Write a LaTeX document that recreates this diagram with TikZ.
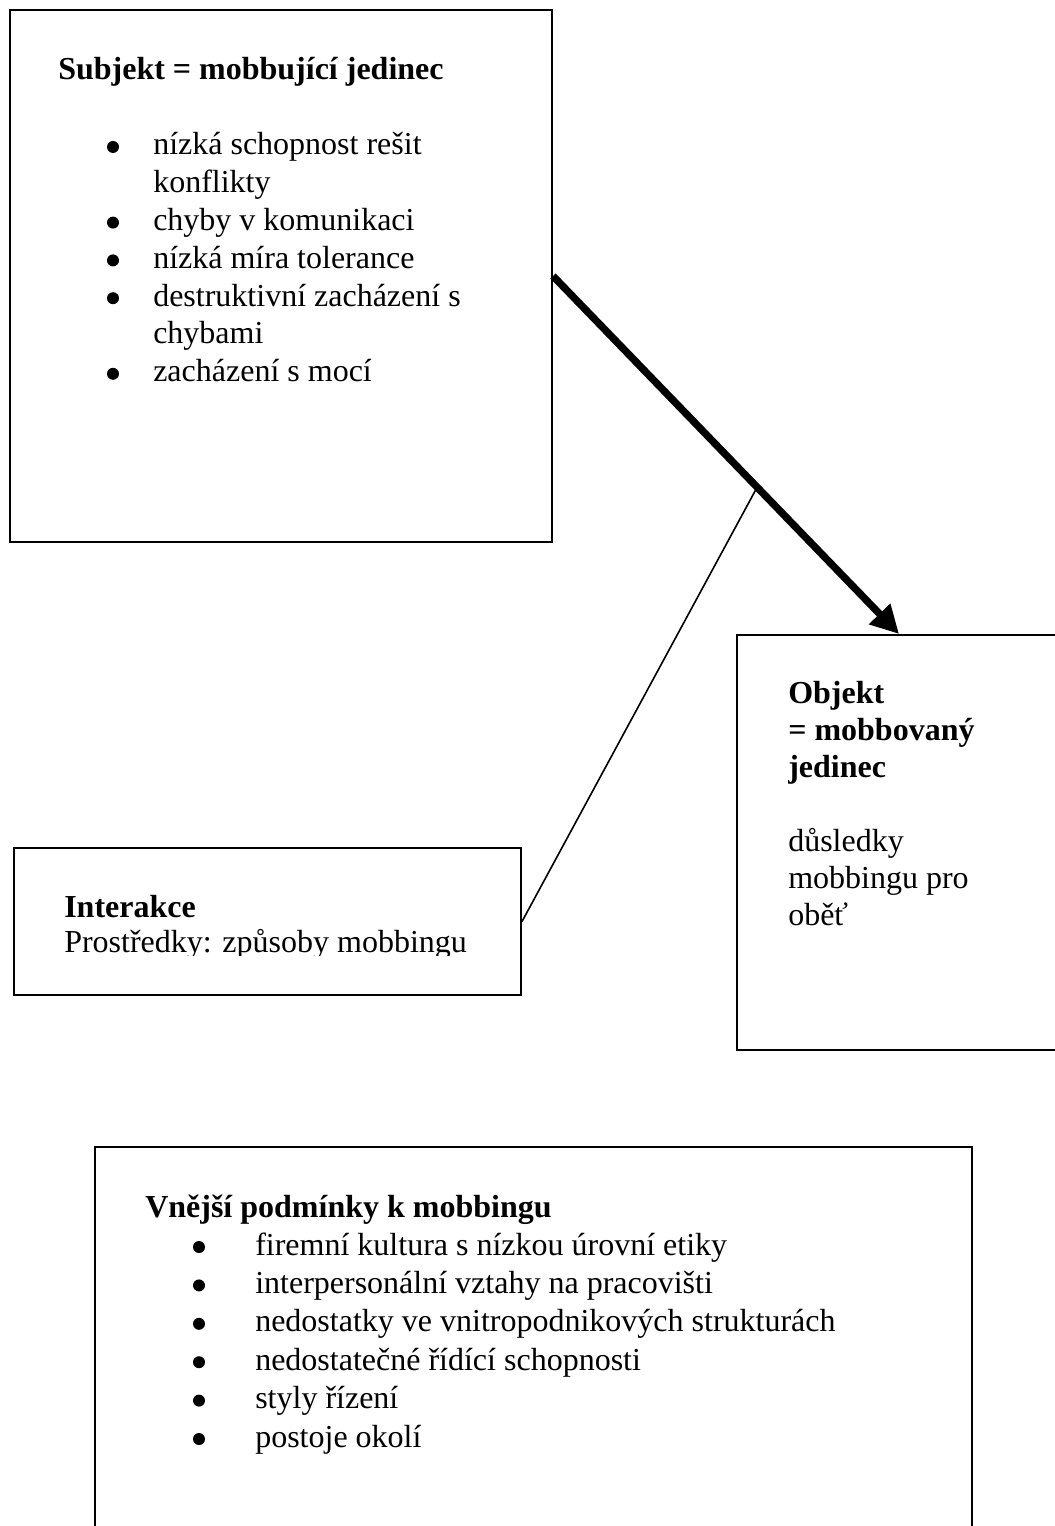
\documentclass[tikz,border=0pt]{standalone}
\usepackage{fontspec}
\setmainfont{Liberation Serif}
\usetikzlibrary{arrows.meta,calc,fit}
\begin{document}
\begin{tikzpicture}[x=0.75pt,y=-0.75pt,
  box/.style={draw, line width=1.5pt, inner sep=0pt},
  txt/.style={anchor=base west, inner sep=0pt, font=\fontsize{24pt}{28pt}\selectfont},
  head/.style={anchor=base west, inner sep=0pt, font=\fontsize{24pt}{28pt}\selectfont\bfseries},
  dot/.style={circle, fill, inner sep=0pt, minimum size=9pt},
  link/.style={line width=1.2pt},
  push/.style={line width=5.5pt, -{Triangle[length=21pt,width=21pt]}}]

\useasboundingbox[fill=white] (0,0) rectangle (1054,1526);

% --- boxes ---
\node[box, fit={(10,10)(552,542)}] (subj) {};
\node[box, fit={(737,635)(1061,1050)}] (obj) {};
\node[box, fit={(14,848)(521,995)}] (inter) {};
\node[box, fit={(95,1147)(972,1560)}] (ext) {};

% --- connectors ---
\draw[push] (subj.east) -- (obj.north);
\coordinate (j) at ($(subj.east)!0.59!(obj.north)$);
\draw[link] (inter.east) -- (j);

% --- subject box ---
\node[head] (sT) at (58,80) {Subjekt = mobbující jedinec};
\node[dot] (sb1) at (113,147) {};
\node[txt] (s1) at (153,155) {nízká schopnost rešit};
\node[txt] (s1b) at (153,192.8) {konflikty};
\node[dot] (sb2) at (113,222.6) {};
\node[txt] (s2) at (153,230.6) {chyby v komunikaci};
\node[dot] (sb3) at (113,260.4) {};
\node[txt] (s3) at (153,268.4) {nízká míra tolerance};
\node[dot] (sb4) at (113,298.2) {};
\node[txt] (s4) at (153,306.2) {destruktivní zacházení s};
\node[txt] (s4b) at (153,344) {chybami};
\node[dot] (sb5) at (113,373.8) {};
\node[txt] (s5) at (153,381.8) {zacházení s mocí};

% --- object box ---
\node[head] (o1) at (788,703) {Objekt};
\node[head] (o2) at (788,740) {= mobbovaný};
\node[head] (o3) at (788,777) {jedinec};
\node[txt] (o4) at (788,851) {důsledky};
\node[txt] (o5) at (788,888) {mobbingu pro};
\node[txt] (o6) at (788,925) {oběť};

% --- interaction box ---
\node[head] (i1) at (64,917) {Interakce};
\begin{scope}
  \clip (14,848) rectangle (521,955);
  \node[txt] (i2) at (64,952) {Prostředky: způsoby mobbingu};
\end{scope}

% --- external conditions box ---
\node[head] (eT) at (145,1217) {Vnější podmínky k mobbingu};
\node[dot] (eb1) at (199,1247) {};
\node[txt] (e1) at (255,1255) {firemní kultura s nízkou úrovní etiky};
\node[dot] (eb2) at (199,1285.4) {};
\node[txt] (e2) at (255,1293.4) {interpersonální vztahy na pracovišti};
\node[dot] (eb3) at (199,1323.8) {};
\node[txt] (e3) at (255,1331.8) {nedostatky ve vnitropodnikových strukturách};
\node[dot] (eb4) at (199,1362.2) {};
\node[txt] (e4) at (255,1370.2) {nedostatečné řídící schopnosti};
\node[dot] (eb5) at (199,1400.6) {};
\node[txt] (e5) at (255,1408.6) {styly řízení};
\node[dot] (eb6) at (199,1439) {};
\node[txt] (e6) at (255,1447) {postoje okolí};
\end{tikzpicture}
\end{document}
